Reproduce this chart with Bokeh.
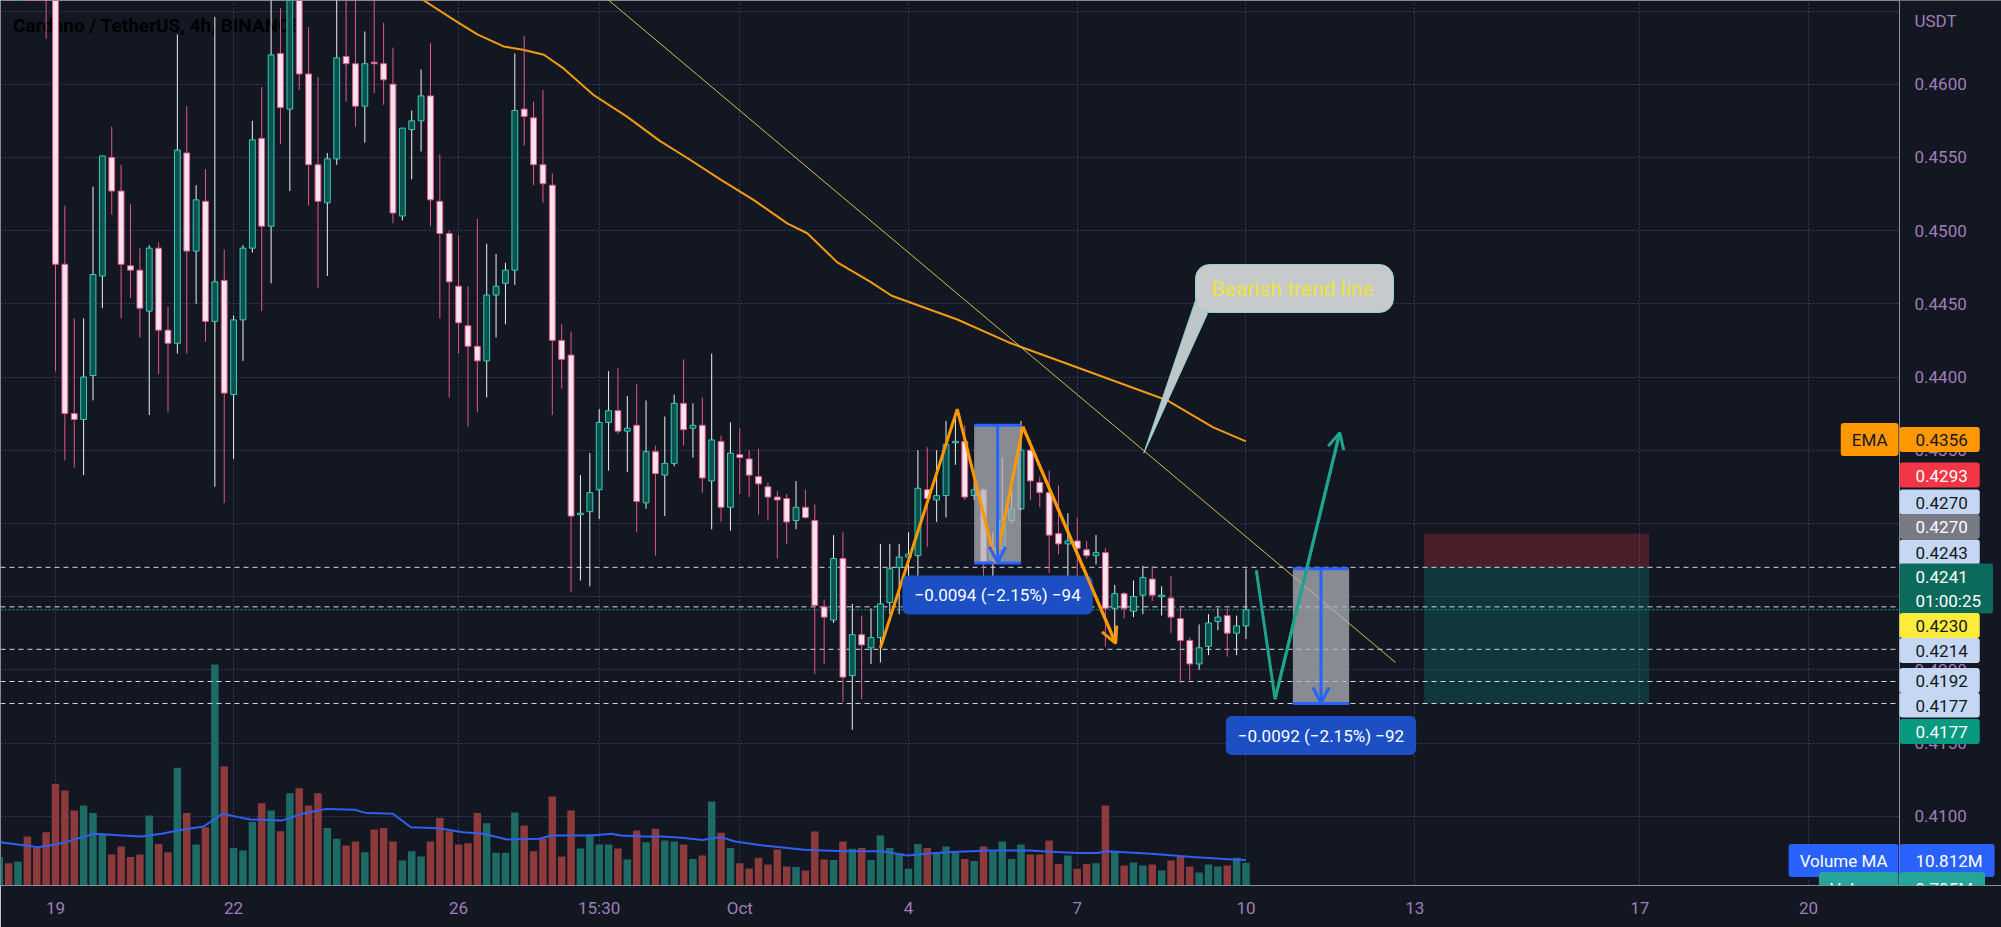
from bokeh.plotting import figure
from bokeh.models import Range1d, FixedTicker, Label, Arrow, OpenHead, Grid
from bokeh.core.properties import value
from bokeh.embed import file_html
from bokeh.resources import INLINE

# ---------------- data (ADA/USDT 4h, bar index 0 = first bar of Sep 19 label) ----------------
bar_index = list(range(-6, 128))
opens = [
    0.4840, 0.4880, 0.4850, 0.4870, 0.4800, 0.4760,
    0.4700, 0.4477, 0.4375, 0.4371, 0.4401, 0.4469, 0.4550, 0.4527, 0.4476, 0.4473,
    0.4445, 0.4488, 0.4432, 0.4423, 0.4553, 0.4486, 0.4520, 0.4438, 0.4466, 0.4388,
    0.4439, 0.4488, 0.4563, 0.4503, 0.4621, 0.4583, 0.4668, 0.4607, 0.4545, 0.4519,
    0.4549, 0.4619, 0.4614, 0.4585, 0.4615, 0.4614, 0.4600, 0.4510, 0.4569, 0.4575,
    0.4592, 0.4520, 0.4498, 0.4462, 0.4435, 0.4421, 0.4411, 0.4456, 0.4464, 0.4473,
    0.4583, 0.4577, 0.4545, 0.4531, 0.4425, 0.4415, 0.4306, 0.4308, 0.4323, 0.4369,
    0.4377, 0.4363, 0.4367, 0.4314, 0.4349, 0.4333, 0.4341, 0.4382, 0.4365, 0.4367,
    0.4329, 0.4356, 0.4311, 0.4347, 0.4344, 0.4332, 0.4325, 0.4318, 0.4317, 0.4302,
    0.4311, 0.4302, 0.4243, 0.4234, 0.4276, 0.4196, 0.4224, 0.4215, 0.4222, 0.4246,
    0.4270, 0.4277, 0.4278, 0.4323, 0.4316, 0.4319, 0.4355, 0.4356, 0.4319, 0.4323,
    0.4275, 0.4283, 0.4302, 0.4310, 0.4350, 0.4328, 0.4321, 0.4293, 0.4286, 0.4288,
    0.4282, 0.4278, 0.4280, 0.4242, 0.4252, 0.4240, 0.4251, 0.4262, 0.4250, 0.4249,
    0.4235, 0.4220, 0.4204, 0.4216, 0.4233, 0.4237, 0.4225, 0.4230]
highs = [
    0.4900, 0.4895, 0.4885, 0.4880, 0.4815, 0.4770,
    0.4710, 0.4517, 0.4440, 0.4440, 0.4530, 0.4551, 0.4571, 0.4545, 0.4518, 0.4488,
    0.4490, 0.4492, 0.4448, 0.4634, 0.4585, 0.4531, 0.4542, 0.4646, 0.4487, 0.4442,
    0.4490, 0.4575, 0.4598, 0.4668, 0.4652, 0.4685, 0.4680, 0.4639, 0.4605, 0.4553,
    0.4662, 0.4662, 0.4660, 0.4636, 0.4659, 0.4642, 0.4625, 0.4570, 0.4582, 0.4610,
    0.4628, 0.4552, 0.4500, 0.4497, 0.4462, 0.4508, 0.4491, 0.4484, 0.4478, 0.4621,
    0.4633, 0.4588, 0.4596, 0.4539, 0.4436, 0.4431, 0.4333, 0.4348, 0.4378, 0.4404,
    0.4406, 0.4387, 0.4395, 0.4384, 0.4353, 0.4373, 0.4388, 0.4412, 0.4382, 0.4386,
    0.4416, 0.4360, 0.4369, 0.4365, 0.4350, 0.4351, 0.4328, 0.4322, 0.4320, 0.4329,
    0.4323, 0.4313, 0.4248, 0.4292, 0.4294, 0.4245, 0.4237, 0.4242, 0.4286, 0.4286,
    0.4286, 0.4294, 0.4350, 0.4352, 0.4350, 0.4370, 0.4375, 0.4367, 0.4329, 0.4324,
    0.4294, 0.4345, 0.4327, 0.4370, 0.4357, 0.4332, 0.4336, 0.4326, 0.4307, 0.4304,
    0.4288, 0.4292, 0.4283, 0.4258, 0.4253, 0.4261, 0.4271, 0.4271, 0.4257, 0.4264,
    0.4243, 0.4222, 0.4231, 0.4238, 0.4242, 0.4242, 0.4237, 0.4269]
lows = [
    0.4820, 0.4830, 0.4835, 0.4790, 0.4745, 0.4631,
    0.4404, 0.4343, 0.4338, 0.4333, 0.4384, 0.4447, 0.4511, 0.4440, 0.4454, 0.4427,
    0.4374, 0.4402, 0.4376, 0.4416, 0.4416, 0.4450, 0.4424, 0.4325, 0.4314, 0.4344,
    0.4411, 0.4485, 0.4445, 0.4464, 0.4559, 0.4527, 0.4596, 0.4517, 0.4461, 0.4469,
    0.4545, 0.4588, 0.4571, 0.4560, 0.4594, 0.4586, 0.4505, 0.4507, 0.4535, 0.4554,
    0.4503, 0.4440, 0.4386, 0.4416, 0.4366, 0.4376, 0.4386, 0.4427, 0.4436, 0.4463,
    0.4558, 0.4531, 0.4519, 0.4374, 0.4392, 0.4253, 0.4261, 0.4257, 0.4303, 0.4336,
    0.4361, 0.4335, 0.4294, 0.4310, 0.4278, 0.4305, 0.4339, 0.4353, 0.4345, 0.4321,
    0.4296, 0.4301, 0.4295, 0.4320, 0.4318, 0.4306, 0.4302, 0.4276, 0.4286, 0.4296,
    0.4303, 0.4197, 0.4204, 0.4232, 0.4178, 0.4159, 0.4180, 0.4204, 0.4205, 0.4238,
    0.4238, 0.4263, 0.4263, 0.4284, 0.4301, 0.4304, 0.4340, 0.4316, 0.4316, 0.4263,
    0.4238, 0.4282, 0.4300, 0.4309, 0.4316, 0.4311, 0.4266, 0.4279, 0.4263, 0.4263,
    0.4276, 0.4272, 0.4216, 0.4218, 0.4235, 0.4236, 0.4238, 0.4247, 0.4237, 0.4225,
    0.4191, 0.4193, 0.4200, 0.4210, 0.4227, 0.4209, 0.4210, 0.4221]
closes = [
    0.4880, 0.4850, 0.4870, 0.4800, 0.4760, 0.4700,
    0.4477, 0.4375, 0.4371, 0.4400, 0.4470, 0.4551, 0.4527, 0.4477, 0.4473, 0.4447,
    0.4488, 0.4432, 0.4423, 0.4555, 0.4486, 0.4521, 0.4438, 0.4465, 0.4389, 0.4439,
    0.4488, 0.4562, 0.4503, 0.4620, 0.4584, 0.4668, 0.4607, 0.4545, 0.4520, 0.4549,
    0.4618, 0.4614, 0.4585, 0.4614, 0.4614, 0.4603, 0.4512, 0.4570, 0.4575, 0.4592,
    0.4521, 0.4498, 0.4465, 0.4437, 0.4421, 0.4411, 0.4456, 0.4462, 0.4473, 0.4582,
    0.4578, 0.4545, 0.4532, 0.4425, 0.4412, 0.4305, 0.4307, 0.4321, 0.4369, 0.4377,
    0.4363, 0.4365, 0.4315, 0.4349, 0.4334, 0.4341, 0.4382, 0.4364, 0.4367, 0.4331,
    0.4357, 0.4311, 0.4348, 0.4345, 0.4333, 0.4327, 0.4318, 0.4316, 0.4301, 0.4311,
    0.4304, 0.4244, 0.4236, 0.4276, 0.4195, 0.4224, 0.4217, 0.4222, 0.4245, 0.4269,
    0.4277, 0.4279, 0.4324, 0.4317, 0.4319, 0.4354, 0.4356, 0.4318, 0.4323, 0.4274,
    0.4283, 0.4302, 0.4310, 0.4350, 0.4329, 0.4321, 0.4292, 0.4286, 0.4288, 0.4283,
    0.4278, 0.4280, 0.4242, 0.4252, 0.4242, 0.4250, 0.4263, 0.4251, 0.4251, 0.4236,
    0.4220, 0.4204, 0.4215, 0.4232, 0.4236, 0.4225, 0.4230, 0.4241]
volumes = [  # millions
    12.1, 9.5, 10.2, 20.9, 16.0, 22.7,
    43.3, 40.4, 31.9, 34.0, 30.9, 22.0, 13.2, 16.6, 12.1, 13.2,
    29.8, 17.7, 14.2, 50.1, 30.9, 17.4, 24.8, 94.0, 50.6, 16.0,
    14.9, 27.0, 35.0, 31.9, 23.1, 39.3, 41.4, 34.0, 39.3, 24.5,
    19.9, 17.0, 18.7, 14.2, 23.8, 24.5, 18.7, 10.6, 14.6, 12.3,
    18.7, 28.7, 23.1, 17.4, 18.0, 30.8, 26.5, 13.9, 13.9, 31.1,
    25.5, 14.6, 19.9, 37.9, 12.3, 31.9, 15.7, 21.7, 17.4, 17.4,
    15.7, 11.1, 23.4, 18.4, 24.1, 19.1, 18.7, 17.4, 11.3, 12.8,
    35.7, 22.4, 16.0, 9.5, 7.2, 11.8, 8.9, 15.3, 8.1, 7.9,
    6.4, 23.0, 11.1, 10.9, 18.7, 15.6, 16.0, 10.9, 21.3, 16.0,
    13.8, 7.1, 17.7, 16.0, 13.5, 16.6, 14.2, 11.3, 10.4, 16.6,
    14.6, 18.7, 11.3, 17.4, 13.2, 13.2, 19.1, 9.2, 12.8, 7.1,
    9.2, 9.5, 34.0, 14.6, 8.5, 9.8, 8.5, 8.9, 6.4, 10.6,
    12.3, 8.1, 5.5, 8.9, 8.1, 8.5, 11.8, 9.705]

# Volume MA
vma_x = [-5.9, -3.2, -1.9, 0, 1.9, 4.1, 7.1, 9.2, 11.3, 13.5, 15.8, 17.8, 19.5, 20.8, 24.2, 26.3,
         28.9, 31.9, 33.2, 36.0, 37.9, 40.9, 43.5, 45.6, 48.2, 51.6, 52.9, 57.2, 59.3, 60.3,
         62.9, 64.7, 66.8, 69.0, 71.0, 72.5, 75.5, 79.9, 84.2, 88.2, 90.8, 92.9, 95.1, 99.5,
         103.8, 107.3, 109.1, 111.2, 112.1, 116.9, 121.3, 125.6, 127]
vma_v = [18.4, 17.0, 16.3, 17.4, 19.4, 22.0, 21.3, 20.9, 22.0, 23.7, 25.1, 30.5, 29.1, 28.1, 27.7, 30.5,
         32.6, 32.2, 30.8, 30.5, 24.8, 24.4, 22.7, 22.0, 19.6, 19.9, 21.3, 21.3, 22.0, 21.3,
         20.9, 20.9, 20.3, 19.4, 20.6, 18.7, 17.0, 15.2, 14.6, 14.6, 12.8, 13.5, 14.2, 14.9,
         14.9, 14.2, 13.8, 13.8, 14.6, 13.5, 12.1, 11.1, 10.812]

# EMA
ema_x = [36.2, 39.3, 42.5, 45.0, 47.8, 50.0, 52.1, 54.2, 57.4, 61.0, 64.5, 67.4, 71.0, 74.5, 78.1,
         80.2, 83.4, 86.9, 89.2, 96.2, 101.7, 109.9, 116.6, 118.6, 123.5, 127.0]
ema_v = [0.46674, 0.46572, 0.46439, 0.46340, 0.46258, 0.46234, 0.46201, 0.46108, 0.45926, 0.45777,
         0.45611, 0.45496, 0.45346, 0.45208, 0.45048, 0.44982, 0.44783, 0.44652, 0.44555, 0.44393,
         0.44236, 0.44044, 0.43887, 0.43840, 0.43656, 0.43560]

# drawings
trend_x = [56.5, 142.95]
trend_y = [0.46709, 0.42050]
hlines = [0.4270, 0.4243, 0.4214, 0.4192, 0.4177]
last_price = 0.4241
zig_x = [88.0, 96.2, 100.3, 103.2, 113.1]
zig_y = [0.4215, 0.4378, 0.4273, 0.4366, 0.4218]
proj_x = [128.1, 130.1, 137.0]
proj_y = [0.4268, 0.4180, 0.4362]
measures = [  # (bar from, bar to, high, low, text)
    (98, 103, 0.4367, 0.4273, "\u22120.0094 (\u22122.15%) \u221294"),
    (132, 138, 0.4269, 0.4177, "\u22120.0092 (\u22122.15%) \u221292"),
]
pos_left, pos_right = 146, 170
pos_stop, pos_entry, pos_target = 0.4293, 0.4270, 0.4177
callout_tip = (116.1, 0.4348)

x_ticks = [0, 19, 43, 58, 73, 91, 109, 127, 145, 169, 187]
x_tick_labels = ["19", "22", "26", "15:30", "Oct", "4", "7", "10", "13", "17", "20"]
price_ticks = [0.410, 0.415, 0.420, 0.425, 0.430, 0.435, 0.440, 0.445, 0.450, 0.455, 0.460, 0.465]
price_labels = ["0.4100", "0.4150", "0.4200", "0.4250", "0.4300", "0.4350", "0.4400", "0.4450",
                "0.4500", "0.4550", "0.4600"]

# ---------------- pane geometry ----------------
FRAME_W, FRAME_H = 2001, 885
PANE_R = 1899                       # right edge of the chart pane (price scale to the right)
BAR_PX, BAR0_PX = 9.374, 55.0
PX_PER_PRICE, P_REF, P_REF_PX = 14640.0, 0.4650, 10.5
VOL_PX_PER_M = 2.35

x_lo = -BAR0_PX / BAR_PX
x_hi = (FRAME_W - BAR0_PX) / BAR_PX
y_hi = P_REF + P_REF_PX / PX_PER_PRICE
y_lo = P_REF - (FRAME_H - P_REF_PX) / PX_PER_PRICE


def sx(px):  # screen x -> bar units (UI placement only)
    return (px - BAR0_PX) / BAR_PX


def sy(py):  # screen y -> price (UI placement only)
    return P_REF - (py - P_REF_PX) / PX_PER_PRICE


def ypx(price):
    return P_REF_PX + (P_REF - price) * PX_PER_PRICE


x_pane = sx(PANE_R)

BG = "#131722"
AXIS_TXT = "#a07db8"
FONT = "Roboto"
UP_FILL, UP_LINE, UP_WICK = "#0d524d", "#35cbbb", "#eeeeee"
DN_FILL, DN_LINE, DN_WICK = "#f5e4ec", "#e2568a", "#e2568a"
VOL_UP, VOL_DN = "#1e6a64", "#8c3a3c"
BLUE = "#2962ff"
SEP = "#8c8f99"
TAG_PAD = dict(left=16, right=12, top=7, bottom=6)

p = figure(frame_width=FRAME_W, frame_height=FRAME_H,
           x_range=Range1d(x_lo, x_hi), y_range=Range1d(y_lo, y_hi),
           y_axis_location=None, output_backend="svg", toolbar_location=None,
           min_border_left=0, min_border_top=0, min_border_right=0, min_border_bottom=42,
           background_fill_color=BG, border_fill_color=BG, outline_line_color=None)
p.extra_y_ranges = {"vol": Range1d(0, FRAME_H / VOL_PX_PER_M)}

# axes / grid
xt = FixedTicker(ticks=x_ticks)
yt = FixedTicker(ticks=price_ticks)
p.xaxis.ticker = xt
p.xgrid.ticker = xt
if len(p.ygrid) == 0:
    p.add_layout(Grid(dimension=1, ticker=yt))
p.ygrid.ticker = yt
p.xaxis.major_label_overrides = {t: l for t, l in zip(x_ticks, x_tick_labels)}
ax = p.xaxis[0]
ax.axis_line_color = SEP
ax.major_tick_line_color = None
ax.minor_tick_line_color = None
ax.major_tick_out = 0
ax.major_tick_in = 0
ax.major_label_text_color = AXIS_TXT
ax.major_label_text_font = FONT
ax.major_label_text_font_size = "17px"
ax.major_label_standoff = 12
for g in (p.xgrid[0], p.ygrid[0]):
    g.grid_line_color = "#393d66"
    g.grid_line_dash = "2 2"
    g.grid_line_width = 1

up = [c >= o for o, c in zip(opens, closes)]


def pick(seq, flag):
    return [v for v, u in zip(seq, up) if u == flag]


# title (drawn behind candles)
p.text(x=[sx(12.5)], y=[sy(25)], text=["Cardano / TetherUS, 4h, BINANCE"], text_font=value(FONT),
       text_font_style="bold", text_font_size="19px", text_color="#000000", text_baseline="middle")

# volume
for flag, col in ((True, VOL_UP), (False, VOL_DN)):
    p.vbar(x=pick(bar_index, flag), top=pick(volumes, flag), bottom=0, width=0.8,
           y_range_name="vol", fill_color=col, line_color=None)
p.line(vma_x, vma_v, y_range_name="vol", line_color="#2f60f0", line_width=2)

# short position tool
p.quad(left=[pos_left], right=[pos_right], top=[pos_stop], bottom=[pos_entry],
       fill_color="#f23645", fill_alpha=0.25, line_color=None)
p.quad(left=[pos_left], right=[pos_right], top=[pos_entry], bottom=[pos_target],
       fill_color="#089981", fill_alpha=0.25, line_color=None)

# horizontal lines
p.segment(x0=[x_lo] * len(hlines), y0=hlines, x1=[x_pane] * len(hlines), y1=hlines,
          line_color="#d6d8de", line_width=1, line_dash="5 4")
p.segment(x0=[x_lo], y0=[last_price], x1=[x_pane], y1=[last_price],
          line_color="#1f9a86", line_width=1, line_dash="2 2")

# EMA & trend line
p.line(ema_x, ema_v, line_color="#f39c12", line_width=2)
p.line(trend_x, trend_y, line_color="#d4c04a", line_width=1)

# candles
for flag, fill, edge, wick in ((True, UP_FILL, UP_LINE, UP_WICK), (False, DN_FILL, DN_LINE, DN_WICK)):
    xs = pick(bar_index, flag)
    o, h, l, c = pick(opens, flag), pick(highs, flag), pick(lows, flag), pick(closes, flag)
    p.segment(x0=xs, y0=h, x1=xs, y1=l, line_color=wick, line_width=1)
    p.vbar(x=xs, top=[max(a, b) for a, b in zip(o, c)], bottom=[min(a, b) for a, b in zip(o, c)],
           width=0.62, fill_color=fill, line_color=edge, line_width=1)

# measure tools
for x0, x1, hi, lo, txt in measures:
    p.quad(left=[x0], right=[x1], top=[hi], bottom=[lo], fill_color="#b0b3b8", fill_alpha=0.75, line_color=None)
    p.segment(x0=[x0, x0], y0=[hi, lo], x1=[x1, x1], y1=[hi, lo], line_color=BLUE, line_width=3)
    mx = (x0 + x1) / 2
    p.add_layout(Arrow(x_start=mx, y_start=hi, x_end=mx, y_end=lo, line_color=BLUE, line_width=3,
                       end=OpenHead(line_color=BLUE, line_width=3, size=16)))
    p.add_layout(Label(x=mx, y=sy(ypx(lo) + 32), text=txt, text_align="center", text_baseline="middle",
                       text_font=FONT, text_font_size="17px", text_color="#ffffff",
                       background_fill_color="#1c4fc4", border_radius=6,
                       padding=dict(left=12, right=12, top=10, bottom=9)))

# zigzag pattern (orange) and projection (teal)
p.line(zig_x, zig_y, line_color="#ff9800", line_width=3)
p.add_layout(Arrow(x_start=zig_x[-2], y_start=zig_y[-2], x_end=zig_x[-1], y_end=zig_y[-1],
                   line_color="#ff9800", line_width=3, end=OpenHead(line_color="#ff9800", line_width=3, size=16)))
p.line(proj_x, proj_y, line_color="#1fa38c", line_width=3)
p.add_layout(Arrow(x_start=proj_x[-2], y_start=proj_y[-2], x_end=proj_x[-1], y_end=proj_y[-1],
                   line_color="#1fa38c", line_width=3, end=OpenHead(line_color="#1fa38c", line_width=3, size=16)))

# callout
p.patch(x=[sx(1195), sx(1207), callout_tip[0]], y=[sy(300), sy(313), callout_tip[1]],
        fill_color="#bfc6ca", line_color="#8fd3cf", line_width=1)
p.add_layout(Label(x=sx(1195), y=sy(288), text="Bearish trend line", text_align="left", text_baseline="middle",
                   text_font=FONT, text_font_size="21px", text_color="#ece43a",
                   background_fill_color="#c6cacd", border_line_color="#8fd3cf", border_line_width=1,
                   border_radius=14, padding=dict(left=16, right=20, top=12, bottom=12)))

# ---- price scale (right of the pane) ----
p.quad(left=[x_pane], right=[x_hi], top=[y_hi], bottom=[y_lo], fill_color=BG, line_color=None)
p.segment(x0=[x_pane], y0=[y_lo], x1=[x_pane], y1=[y_hi], line_color=SEP, line_width=1)
p.text(x=[sx(1914)] * len(price_labels), y=price_ticks[:len(price_labels)], text=price_labels,
       text_font=value(FONT), text_font_size="17px", text_color=AXIS_TXT, text_baseline="middle")
p.text(x=[sx(1914)], y=[sy(20)], text=["USDT"], text_font=value(FONT), text_font_size="17px",
       text_color=AXIS_TXT, text_baseline="middle")

tag_text = ["0.4356", "0.4293", "0.4270", "0.4270", "0.4243", "0.4241\n01:00:25", "0.4230",
            "0.4214", "0.4192", "0.4177", "0.4177", "10.812M", "9.705M"]
tag_py = [439, 474.5, 501.5, 526, 551.5, 588, 625, 650, 680, 704.5, 731, 860, 888]
tag_bg = ["#ff9800", "#f23645", "#c5d7f3", "#787b86", "#c5d7f3", "#0b6a5b", "#ffeb3b",
          "#c5d7f3", "#c5d7f3", "#c5d7f3", "#089981", BLUE, "#26a69a"]
tag_fg = ["#131722", "#ffffff", "#131722", "#ffffff", "#131722", "#ffffff", "#131722",
          "#131722", "#131722", "#131722", "#ffffff", "#ffffff", "#ffffff"]
for t, yy, bg, fg in zip(tag_text, tag_py, tag_bg, tag_fg):
    pad = dict(left=16, right=12, top=3, bottom=3) if "\n" in t else TAG_PAD
    p.add_layout(Label(x=x_pane, y=sy(yy), text=t, text_align="left", text_baseline="middle",
                       text_font=FONT, text_font_size="17px", text_color=fg,
                       background_fill_color=bg, border_radius=3, padding=pad))

for t, yy, bg, fg in (("EMA", 439, "#ff9800", "#131722"), ("Volume MA", 860, BLUE, "#ffffff"),
                      ("Volume", 888, "#26a69a", "#ffffff")):
    p.add_layout(Label(x=sx(PANE_R - 1), y=sy(yy), text=t, text_align="right", text_baseline="middle",
                       text_font=FONT, text_font_size="17px", text_color=fg,
                       background_fill_color=bg, border_radius=3,
                       padding=dict(left=11, right=11, top=7, bottom=6)))

open("out.html", "w").write(file_html(p, INLINE))
